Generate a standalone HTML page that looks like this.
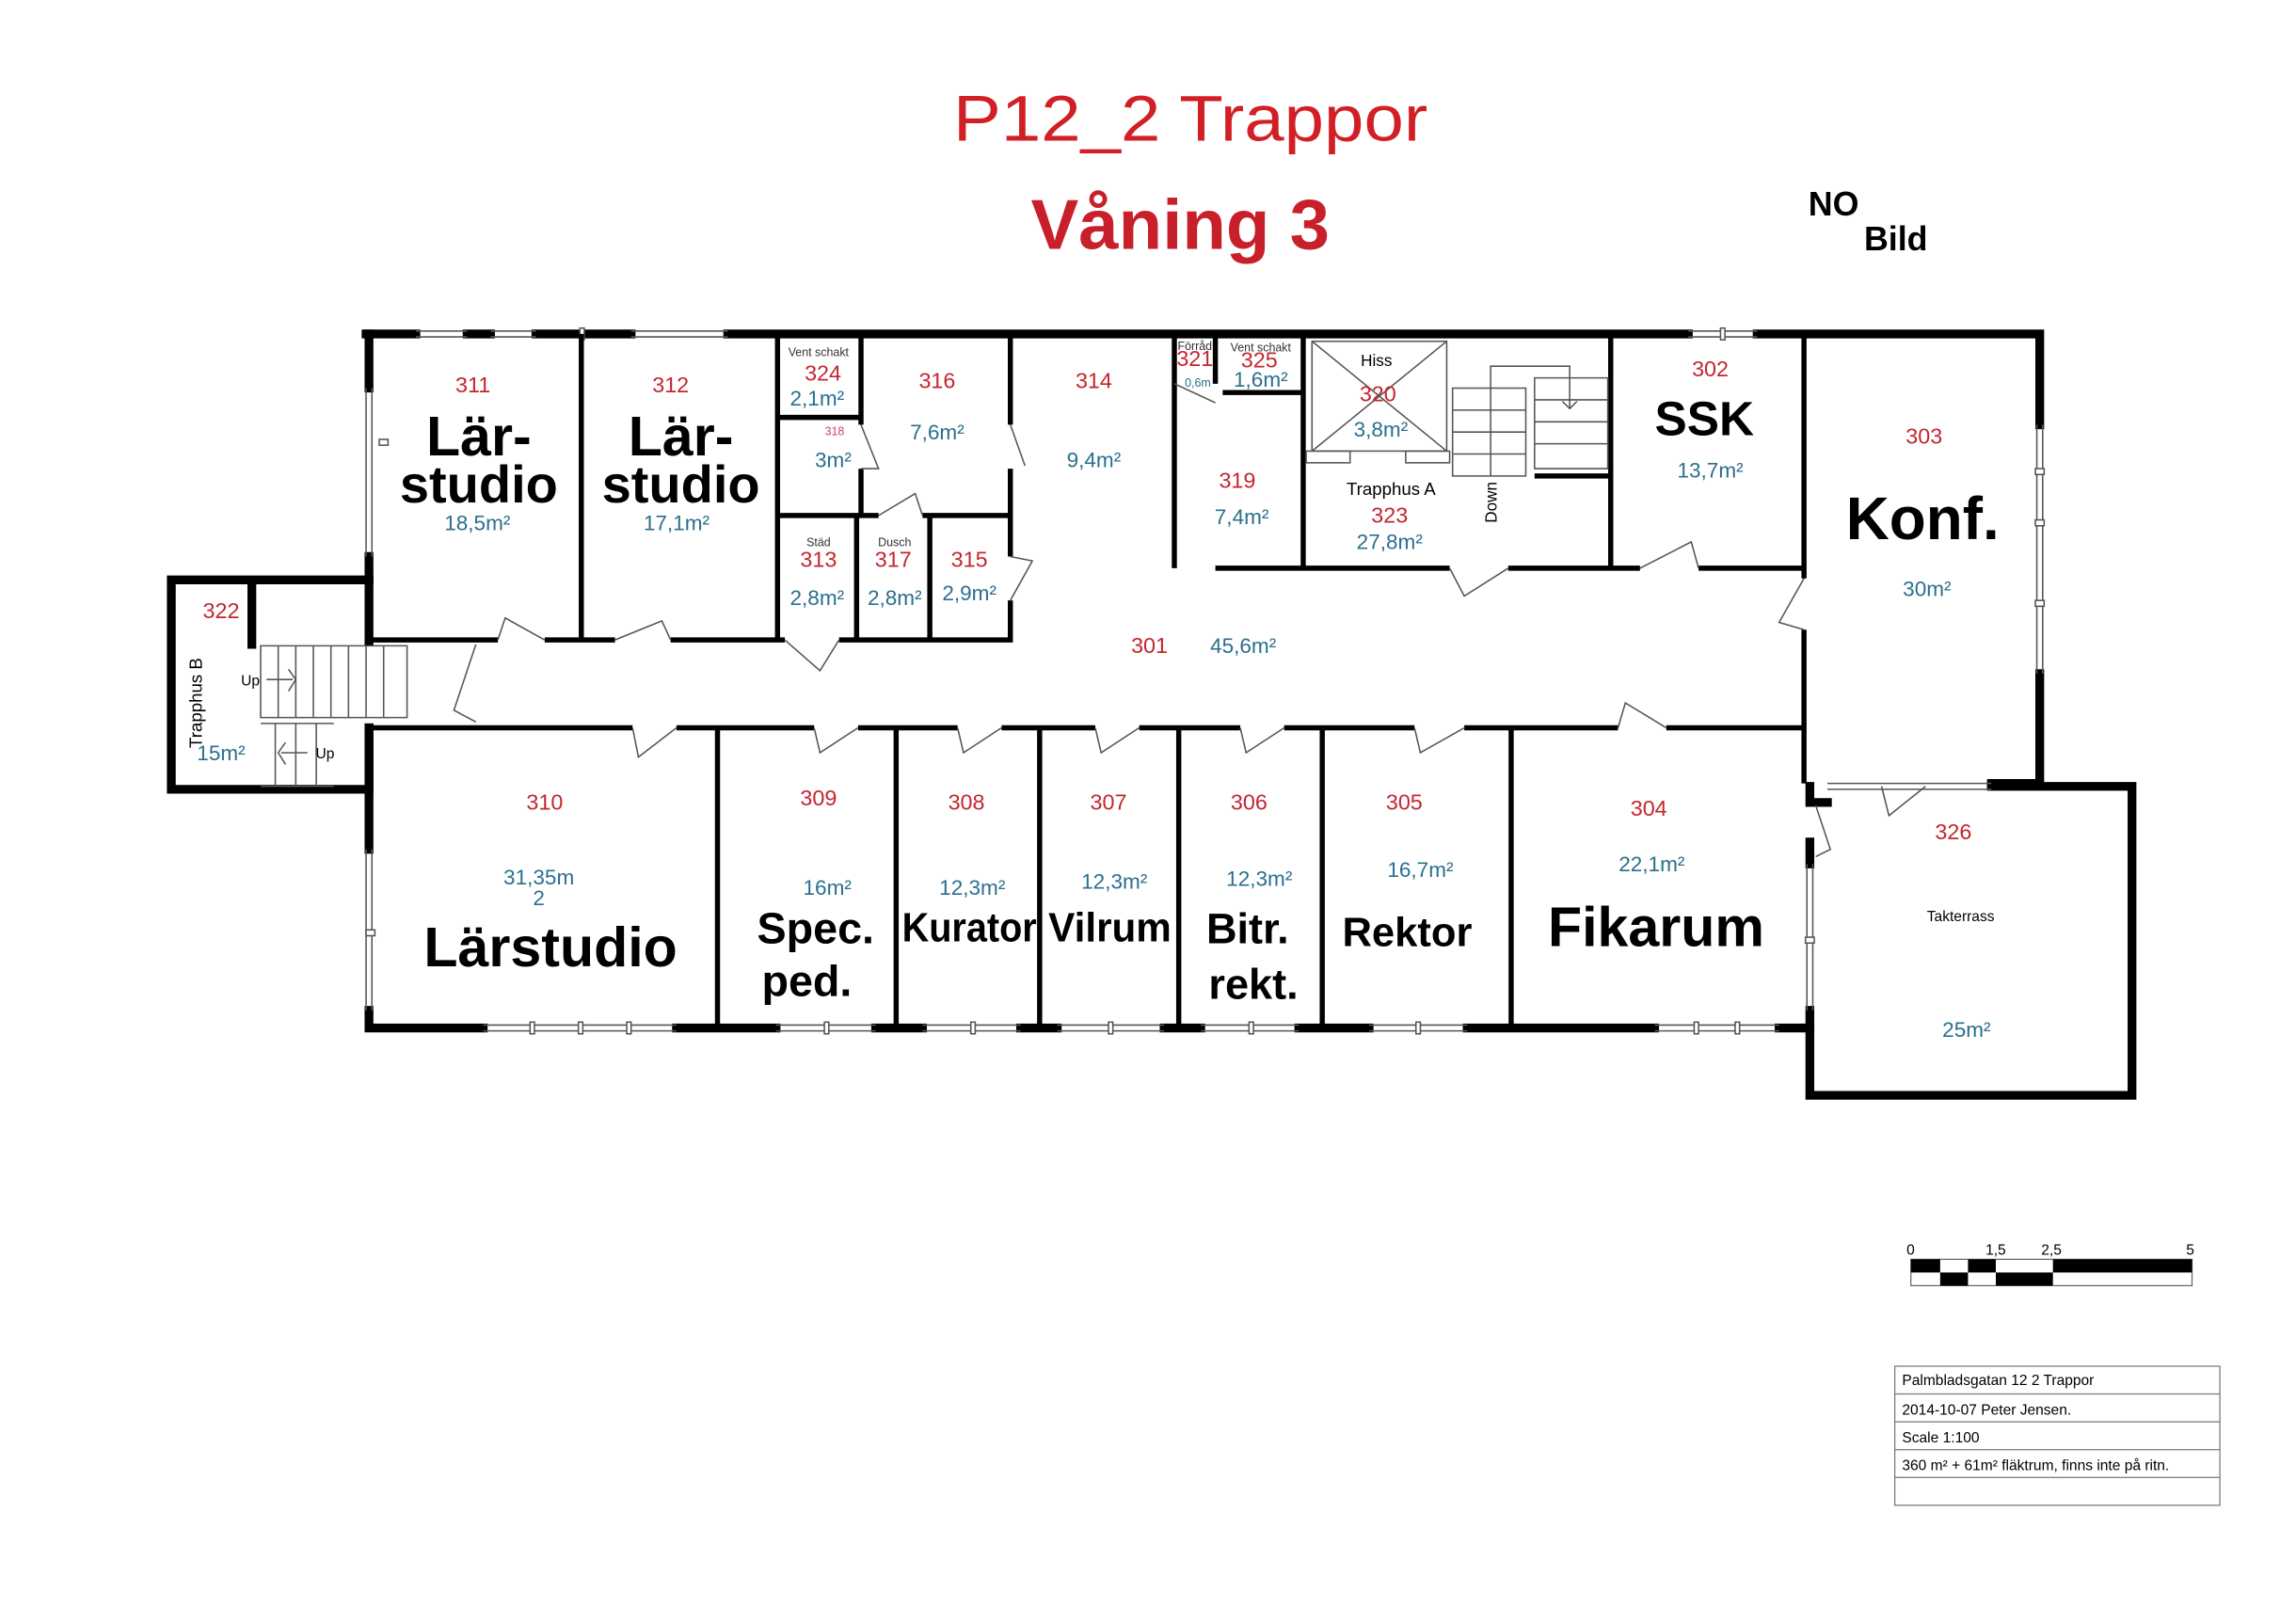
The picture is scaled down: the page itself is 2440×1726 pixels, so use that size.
<!DOCTYPE html>
<html><head><meta charset="utf-8"><style>
html,body{margin:0;padding:0;background:#fff;}
svg{display:block;}
text{font-family:"Liberation Sans",sans-serif;}
.r{fill:#c4262e;font-size:15px;text-anchor:middle;}
.b{fill:#2b6f8e;font-size:14.5px;text-anchor:middle;}
.k{fill:#000;font-weight:bold;text-anchor:middle;font-family:"Liberation Sans",sans-serif;}
.s{fill:#333;font-size:8px;text-anchor:middle;}
.w{stroke:#000;stroke-width:6;fill:none;stroke-linecap:square;}
.t{stroke:#000;stroke-width:3.5;fill:none;}
.g{stroke:#555;stroke-width:1;fill:none;}
</style></head><body>
<svg width="2440" height="1726" viewBox="0 0 1568 1109" xmlns="http://www.w3.org/2000/svg">
<rect width="1568" height="1109" fill="#fff"/>
<text x="813" y="96" textLength="324" lengthAdjust="spacingAndGlyphs" style="fill:#d21f26;font-size:44px;text-anchor:middle">P12_2 Trappor</text>
<text x="806" y="170" textLength="204" lengthAdjust="spacingAndGlyphs" style="fill:#c8202a;font-size:48px;font-weight:bold;text-anchor:middle">Våning 3</text>
<text x="1235" y="147" style="font-size:23px;font-weight:bold">NO</text>
<text x="1273" y="171" style="font-size:23px;font-weight:bold">Bild</text>

<g class="w">
<path d="M250 228 H284 M319 228 H335 M366 228 H431 M497 228 H1153 M1200 228 H1393 V290"/>
<path d="M1393 460 V535 H1360"/>
<path d="M252 228 V265 M252 380 V438"/>
<path d="M252 396 H117 V539 H252 V497"/>
<path d="M172 400 V440"/>
<path d="M252 497 V580 M252 690 V702 H330"/>
<path d="M462 702 H530 M598 702 H630 M697 702 H722 M795 702 H820 M887 702 H935 M1002 702 H1130 M1215 702 H1236"/>
<path d="M1236 537 V548 H1248 M1360 537 H1456 V748 H1236 V690"/>
<path d="M1236 590 V575"/>
</g>
<g class="g">
<path d="M284 226 H319 M284 230 H319 M335 226 H366 M335 230 H366 M431 226 H497 M431 230 H497 M1153 226 H1200 M1153 230 H1200"/>
<path d="M1391 290 V460 M1395 290 V460"/>
<path d="M250 265 V380 M254 265 V380 M250 580 V690 M254 690 V580"/>
<path d="M330 700 H462 M330 704 H462 M530 700 H598 M530 704 H598 M630 700 H697 M630 704 H697 M722 700 H795 M722 704 H795 M820 700 H887 M820 704 H887 M935 700 H1002 M935 704 H1002 M1130 700 H1215 M1130 704 H1215"/>
<path d="M1234 590 V690 M1238 590 V690 M1248 535 H1360 M1248 539 H1360"/>
</g>
<g fill="#fff" stroke="#555" stroke-width="1">
<rect x="259" y="300" width="6" height="4"/><rect x="396" y="224" width="3" height="8"/><rect x="1175" y="224" width="3" height="8"/>
<rect x="1390" y="355" width="6" height="4"/><rect x="1390" y="410" width="6" height="4"/><rect x="1390" y="320" width="6" height="4"/>
<rect x="362" y="698" width="3" height="8"/><rect x="395" y="698" width="3" height="8"/><rect x="428" y="698" width="3" height="8"/>
<rect x="563" y="698" width="3" height="8"/><rect x="663" y="698" width="3" height="8"/><rect x="757" y="698" width="3" height="8"/>
<rect x="853" y="698" width="3" height="8"/><rect x="967" y="698" width="3" height="8"/><rect x="1157" y="698" width="3" height="8"/><rect x="1185" y="698" width="3" height="8"/>
<rect x="1233" y="640" width="6" height="4"/><rect x="250" y="635" width="6" height="4"/>
</g>

<g class="t">
<path d="M252 437 H340 M372 437 H420 M458 437 H536 M573 437 H690 V410 M690 380 V320 M690 290 V228"/>
<path d="M397 228 V437 M531 228 V437 M531 285 H588 V228 M588 290 V285 M588 320 V352 H531 M600 352 H530 M630 352 H690"/>
<path d="M585 352 V437 M635 352 V437"/>
<path d="M802 228 V388 M830 228 V262 M835 268 H890 M830 388 H890 M890 228 V388 H990 M1030 388 H1120 M1160 388 H1232"/>
<path d="M1100 228 V388 M1232 228 V395 M1232 430 V535"/>
<path d="M1048 325 H1100"/>
<path d="M252 497 H432 M462 497 H556 M586 497 H654 M684 497 H748 M778 497 H847 M877 497 H966 M1000 497 H1105 M1138 497 H1232"/>
<path d="M490 497 V702 M612 497 V702 M710 497 V702 M805 497 V702 M903 497 V702 M1032 497 V702"/>
</g>
<g class="g">
<path d="M340 437 L345 422 L372 437 M420 437 L452 424 L458 437 M536 437 L560 458 L573 437"/>
<path d="M588 290 L600 320 L588 320 M690 290 L700 318 M690 380 L705 383 L690 410 M600 352 L625 337 L630 352"/>
<path d="M325 440 L310 485 L325 493"/>
<path d="M432 497 L436 517 L462 497 M556 497 L560 514 L586 497 M654 497 L658 514 L684 497 M748 497 L752 514 L778 497 M847 497 L851 514 L877 497 M966 497 L970 514 L1000 497 M1105 497 L1110 480 L1138 497"/>
<path d="M990 388 L1000 407 L1030 388 M1120 388 L1155 370 L1160 388 M1232 395 L1215 425 L1232 430"/>
<path d="M1285 537 L1290 557 L1315 537 M1240 550 L1250 580 L1240 585"/>
<path d="M802 262 L830 275"/>
</g>
<g stroke="#555" stroke-width="1" fill="none">
<rect x="896" y="233" width="92" height="75"/><path d="M896 233 L988 308 M988 233 L896 308"/>
<rect x="892" y="308" width="30" height="8"/><rect x="960" y="308" width="30" height="8"/>
<path d="M992 265 H1042 V325 H992 Z M992 280 H1042 M992 295 H1042 M992 310 H1042"/>
<path d="M1048 258 H1098 V320 H1048 Z M1048 273 H1098 M1048 288 H1098 M1048 303 H1098"/>
<path d="M1018 325 V250 H1072 V278 M1067 274 L1072 279 L1077 274"/>
<path d="M178 441 H278 V490 H178 Z"/>
<path d="M190 441 V490 M202 441 V490 M214 441 V490 M226 441 V490 M238 441 V490 M250 441 V490 M262 441 V490"/>
<path d="M178 494 H228 M178 537 H228 M188 494 V537 M202 494 V537 M216 494 V537"/>
<path d="M182 464 H200 M197 457 L202 464 L197 472 M210 514 H192 M195 507 L190 514 L195 522"/>
</g>

<text class="r" x="323" y="268">311</text>
<text class="k" x="327" y="311" font-size="38">Lär-</text>
<text class="k" x="327" y="343" font-size="36">studio</text>
<text class="b" x="326" y="362">18,5m²</text>
<text class="r" x="458" y="268">312</text>
<text class="k" x="465" y="311" font-size="38">Lär-</text>
<text class="k" x="465" y="343" font-size="36">studio</text>
<text class="b" x="462" y="362">17,1m²</text>
<text class="s" x="559" y="243">Vent schakt</text>
<text class="r" x="562" y="260" font-size="10">324</text>
<text class="b" x="558" y="277">2,1m²</text>
<text class="s" x="570" y="297" style="fill:#c46">318</text>
<text class="b" x="569" y="319">3m²</text>
<text class="r" x="640" y="265">316</text>
<text class="b" x="640" y="300">7,6m²</text>
<text class="r" x="747" y="265">314</text>
<text class="b" x="747" y="319">9,4m²</text>
<text class="s" x="816" y="239" font-size="7">Förråd</text>
<text class="r" x="816" y="250" font-size="11">321</text>
<text class="s" x="818" y="264" style="fill:#2b6f8e">0,6m</text>
<text class="s" x="861" y="240">Vent schakt</text>
<text class="r" x="860" y="251" font-size="11">325</text>
<text class="b" x="861" y="264" font-size="11">1,6m²</text>
<text x="940" y="250" style="font-size:11px;text-anchor:middle">Hiss</text>
<text class="r" x="941" y="274">320</text>
<text class="b" x="943" y="298">3,8m²</text>
<text class="r" x="845" y="333">319</text>
<text class="b" x="848" y="358">7,4m²</text>
<text x="950" y="338" style="font-size:12px;text-anchor:middle">Trapphus A</text>
<text class="r" x="949" y="357">323</text>
<text class="b" x="949" y="375">27,8m²</text>
<text x="1022" y="343" transform="rotate(-90 1022 343)" style="font-size:11px;text-anchor:middle">Down</text>
<text class="r" x="1168" y="257">302</text>
<text class="k" x="1164" y="297" font-size="33">SSK</text>
<text class="b" x="1168" y="326">13,7m²</text>
<text class="r" x="1314" y="303">303</text>
<text class="k" x="1313" y="368" font-size="41">Konf.</text>
<text class="b" x="1316" y="407">30m²</text>
<text class="s" x="559" y="373">Städ</text>
<text class="r" x="559" y="387" font-size="12">313</text>
<text class="b" x="558" y="413">2,8m²</text>
<text class="s" x="611" y="373">Dusch</text>
<text class="r" x="610" y="387" font-size="12">317</text>
<text class="b" x="611" y="413">2,8m²</text>
<text class="r" x="662" y="387" font-size="12">315</text>
<text class="b" x="662" y="410">2,9m²</text>
<text class="r" x="785" y="446">301</text>
<text class="b" x="849" y="446">45,6m²</text>
<text class="r" x="151" y="422">322</text>
<text x="138" y="480" transform="rotate(-90 138 480)" style="font-size:12px;text-anchor:middle">Trapphus B</text>
<text class="b" x="151" y="519">15m²</text>
<text x="171" y="468" style="font-size:10px;text-anchor:middle">Up</text>
<text x="222" y="518" style="font-size:10px;text-anchor:middle">Up</text>
<text class="r" x="372" y="553">310</text>
<text class="b" x="368" y="604">31,35m</text>
<text class="b" x="368" y="618" font-size="8">2</text>
<text class="k" x="376" y="660" font-size="38">Lärstudio</text>
<text class="r" x="559" y="550">309</text>
<text class="b" x="565" y="611">16m²</text>
<text class="k" x="557" y="644" font-size="30">Spec.</text>
<text class="k" x="551" y="680" font-size="30">ped.</text>
<text class="r" x="660" y="553">308</text>
<text class="b" x="664" y="611">12,3m²</text>
<text class="k" x="662" y="643" font-size="28" textLength="92" lengthAdjust="spacingAndGlyphs">Kurator</text>
<text class="r" x="757" y="553">307</text>
<text class="b" x="761" y="607">12,3m²</text>
<text class="k" x="758" y="643" font-size="28" textLength="84" lengthAdjust="spacingAndGlyphs">Vilrum</text>
<text class="r" x="853" y="553">306</text>
<text class="b" x="860" y="605">12,3m²</text>
<text class="k" x="852" y="644" font-size="29">Bitr.</text>
<text class="k" x="856" y="682" font-size="29">rekt.</text>
<text class="r" x="959" y="553">305</text>
<text class="b" x="970" y="599">16,7m²</text>
<text class="k" x="961" y="646" font-size="28">Rektor</text>
<text class="r" x="1126" y="557">304</text>
<text class="b" x="1128" y="595">22,1m²</text>
<text class="k" x="1131" y="646" font-size="38">Fikarum</text>
<text class="r" x="1334" y="573">326</text>
<text x="1339" y="629" style="font-size:10px;text-anchor:middle">Takterrass</text>
<text class="b" x="1343" y="708">25m²</text>

<g font-size="10">
<text x="1302" y="857">0</text><text x="1356" y="857">1,5</text><text x="1394" y="857">2,5</text><text x="1493" y="857">5</text>
</g>
<rect x="1305" y="860" width="192" height="18" fill="#fff" stroke="#666" stroke-width="0.8"/>
<rect x="1305" y="860" width="20" height="9"/><rect x="1344" y="860" width="19" height="9"/><rect x="1402" y="860" width="95" height="9"/>
<rect x="1325" y="869" width="19" height="9"/><rect x="1363" y="869" width="39" height="9"/>

<g stroke="#777" stroke-width="0.8" fill="none">
<rect x="1294" y="933" width="222" height="95"/>
<path d="M1294 952 H1516 M1294 971 H1516 M1294 990 H1516 M1294 1009 H1516"/>
</g>
<g font-size="10">
<text x="1299" y="946">Palmbladsgatan 12 2 Trappor</text>
<text x="1299" y="966">2014-10-07 Peter Jensen.</text>
<text x="1299" y="985">Scale 1:100</text>
<text x="1299" y="1004">360 m² + 61m² fläktrum, finns inte på ritn.</text>
</g>
</svg>
</body></html>
